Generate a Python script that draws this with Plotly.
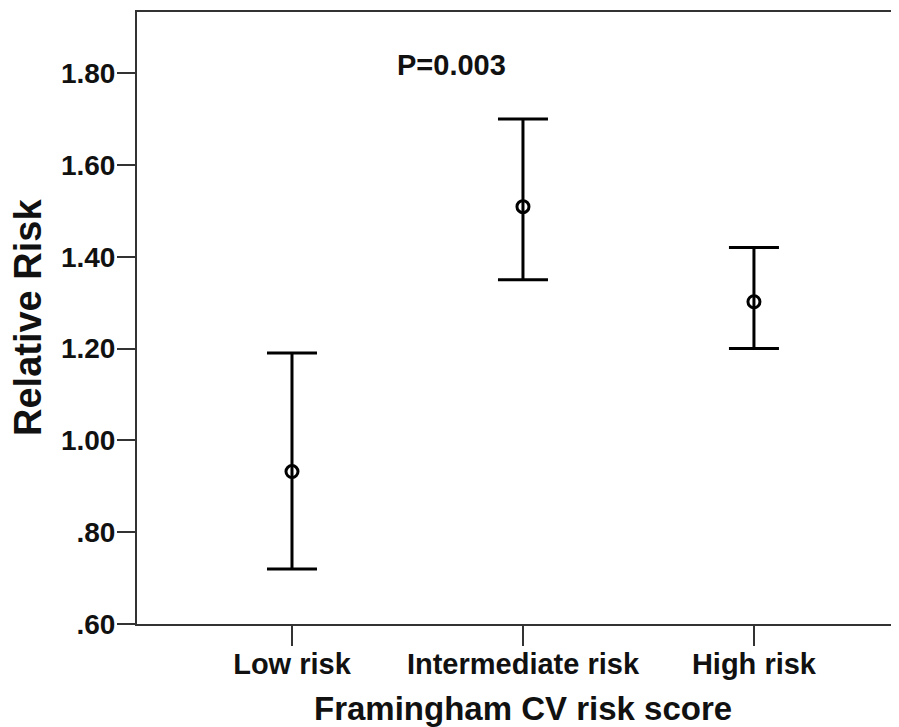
import plotly.graph_objects as go

categories = ["Low risk", "Intermediate risk", "High risk"]
means = [0.932, 1.509, 1.302]
upper = [1.19, 1.70, 1.42]
lower = [0.72, 1.35, 1.20]

y_tickvals = [0.6, 0.8, 1.0, 1.2, 1.4, 1.6, 1.8]
y_ticktext = [".60", ".80", "1.00", "1.20", "1.40", "1.60", "1.80"]

p_text = "P=0.003"

err_plus = [u - m for u, m in zip(upper, means)]
err_minus = [m - l for m, l in zip(means, lower)]

FONT = "Liberation Sans, Arial, sans-serif"
AX = "#333333"

fig = go.Figure()
fig.add_trace(go.Scatter(
    x=categories, y=means, mode="markers",
    marker=dict(symbol="circle-open", size=12, color="black",
                line=dict(width=3, color="black")),
    error_y=dict(type="data", symmetric=False, array=err_plus,
                 arrayminus=err_minus, color="black", thickness=3, width=25),
    showlegend=False, cliponaxis=False,
))

fig.update_layout(
    width=891, height=719,
    margin=dict(l=129, r=0, t=4, b=103),
    paper_bgcolor="white", plot_bgcolor="white",
    font=dict(family=FONT, color="black"),
    xaxis=dict(
        type="category", categoryorder="array", categoryarray=categories,
        range=[-0.671, 2.628],
        showline=True, linecolor=AX, linewidth=2, mirror=True,
        ticks="outside", ticklen=20, tickwidth=2, tickcolor=AX,
        ticklabelstandoff=-7,
        showgrid=False, zeroline=False,
        tickfont=dict(family=FONT, size=29, color="#111111", weight="bold"),
    ),
    yaxis=dict(
        range=[0.6, 1.933],
        tickvals=y_tickvals, ticktext=y_ticktext,
        showline=True, linecolor=AX, linewidth=2, mirror=False,
        ticks="outside", ticklen=18, tickwidth=2, tickcolor=AX,
        ticklabelstandoff=-4,
        showgrid=False, zeroline=False,
        tickfont=dict(family=FONT, size=28, color="#111111", weight="bold"),
    ),
    annotations=[
        dict(text="Relative Risk", xref="paper", yref="paper", x=0, y=0.5,
             xshift=-109, textangle=-90, showarrow=False,
             xanchor="center", yanchor="middle",
             font=dict(family=FONT, size=38, color="#111111", weight="bold")),
        dict(text="Framingham CV risk score", xref="x", yref="paper",
             x=1, y=0, yshift=-84, showarrow=False,
             xanchor="center", yanchor="middle",
             font=dict(family=FONT, size=33, color="#111111", weight="bold")),
        dict(text=p_text, xref="x", yref="y", x=0.69, y=1.817,
             showarrow=False, xanchor="center", yanchor="middle",
             font=dict(family=FONT, size=29, color="#111111", weight="bold")),
    ],
)

fig.write_html("out.html")
